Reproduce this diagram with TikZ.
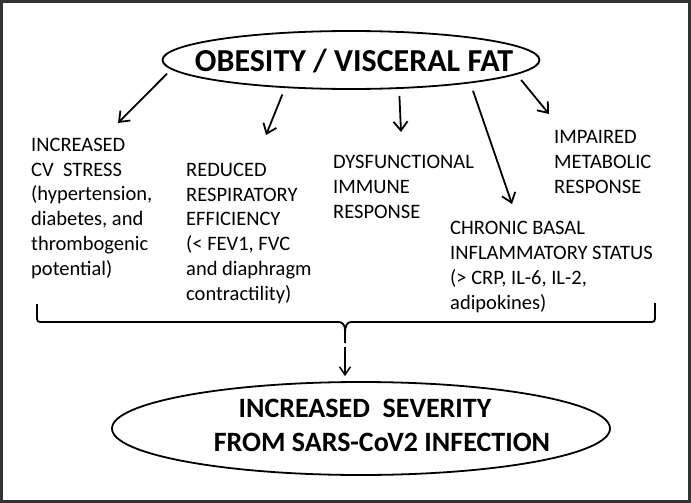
\documentclass[tikz,border=0pt]{standalone}
\usepackage{fontspec}
\setmainfont{Carlito}
\usetikzlibrary{arrows.meta,calc,shapes.geometric}

\begin{document}
\begin{tikzpicture}[x=1pt,y=-1pt,>={Straight Barb[length=9pt,width=14pt]},
    arr/.style={->,line width=1.8pt},
    oval/.style={draw,ellipse,line width=1.8pt,inner sep=0pt},
    effect/.style={anchor=base west,align=left,inner sep=0pt,
      font=\fontsize{20.5}{24.7}\selectfont},
    sevtext/.style={anchor=base,inner sep=0pt,
      font=\bfseries\fontsize{28}{32}\selectfont},
    brace/.style={line width=1.8pt,rounded corners=3pt}]
  \useasboundingbox (0,0) rectangle (691,503);
  % frame
  \draw[line width=2.6pt,black!80] (1.3,1.3) rectangle (689.2,501.6);

  % cause
  \node[oval,minimum width=377pt,minimum height=58pt] (obesity) at (351,60) {};
  \node[font=\bfseries\fontsize{32}{38}\selectfont,inner sep=0pt] (obesity-txt)
    at (354,61) {OBESITY / VISCERAL FAT};

  % effects (placed at the baseline of their last line)
  \node[effect] (cv) at (31,275)
    {INCREASED\\CV\ \ STRESS\\(hypertension,\\diabetes, and\\thrombogenic\\potential)};
  \node[effect] (resp) at (186,300)
    {REDUCED\\RESPIRATORY\\EFFICIENCY\\(< FEV1, FVC\\and diaphragm\\contractility)};
  \node[effect] (immune) at (333,218) {DYSFUNCTIONAL\\IMMUNE\\RESPONSE};
  \node[effect] (metab) at (554,193) {IMPAIRED\\METABOLIC\\RESPONSE};
  \node[effect] (inflam) at (450,309)
    {CHRONIC BASAL\\INFLAMMATORY STATUS\\(> CRP, IL-6, IL-2,\\adipokines)};

  % arrow tips
  \coordinate (cv-in) at (118,123);
  \coordinate (resp-in) at (266,135);
  \coordinate (immune-in) at (401,132);
  \coordinate (inflam-in) at (512,204);
  \coordinate (metab-in) at (549,114);

  \draw[arr,shorten <=6pt] (obesity.183) -- (cv-in);
  \draw[arr,shorten <=7pt] (obesity.203) -- (resp-in);
  \draw[arr,shorten <=7pt] (obesity.329) -- (immune-in);
  \draw[arr,shorten <=8pt] (obesity.349) -- (inflam-in);
  \draw[arr,shorten <=7pt] (obesity.355) -- (metab-in);

  % brace
  \coordinate (bl) at (37,304);
  \coordinate (br) at (655,303);
  \coordinate (tip) at (345,343);
  \draw[brace] (bl) |- ($(tip)+(-9,-21)$)
    .. controls ($(tip)+(-2,-21)$) and ($(tip)+(0,-17)$) .. ($(tip)+(0,-10)$) -- (tip);
  \draw[brace] (br) |- ($(tip)+(9,-21)$)
    .. controls ($(tip)+(2,-21)$) and ($(tip)+(0,-17)$) .. ($(tip)+(0,-10)$);

  % outcome
  \node[oval,minimum width=498pt,minimum height=93pt] (severity) at (361,428.5) {};
  \node[sevtext] (sev1) at (365,417) {INCREASED\ \ SEVERITY};
  \node[sevtext] (sev2) at (382,451) {FROM SARS-CoV2 INFECTION};
  \draw[->,>={Straight Barb[length=8pt,width=11pt]},line width=1.5pt,
    shorten <=4pt,shorten >=5pt] (tip) -- (tip |- severity.north);
\end{tikzpicture}
\end{document}
